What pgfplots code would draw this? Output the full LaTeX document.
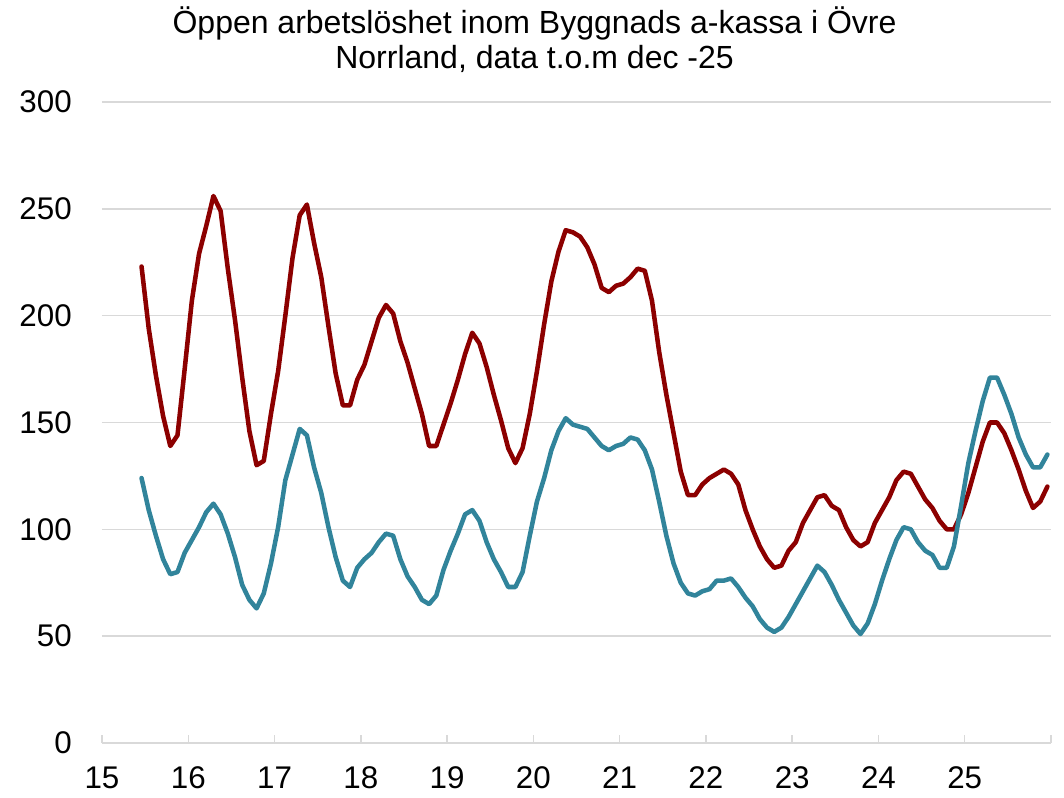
\documentclass[border=0pt]{standalone}
\usepackage{fontspec}
\setmainfont{Liberation Sans}
\usepackage{pgfplots}
\usepackage{pgfplotstable}
\pgfplotsset{compat=1.18}
\definecolor{dred}{RGB}{140,0,0}
\definecolor{tealc}{RGB}{49,132,155}
\definecolor{gridc}{RGB}{217,217,217}
\pgfplotstableread{
red teal
223 124
194 109
172 97
153 86
139 79
144 80
175 89
207 95
229 101
242 108
256 112
249 107
222 98
198 87
171 74
146 67
130 63
132 70
154 84
174 101
200 123
227 135
247 147
252 144
234 129
218 117
195 101
173 87
158 76
158 73
170 82
177 86
188 89
199 94
205 98
201 97
188 86
178 78
166 73
154 67
139 65
139 69
149 81
159 90
170 98
182 107
192 109
187 104
176 94
163 86
151 80
138 73
131 73
138 80
154 97
174 113
196 124
216 137
230 146
240 152
239 149
237 148
232 147
224 143
213 139
211 137
214 139
215 140
218 143
222 142
221 137
207 128
183 113
163 97
145 84
127 75
116 70
116 69
121 71
124 72
126 76
128 76
126 77
121 73
109 68
100 64
92 58
86 54
82 52
83 54
90 59
94 65
103 71
109 77
115 83
116 80
111 74
109 67
101 61
95 55
92 51
94 56
103 65
109 76
115 86
123 95
127 101
126 100
120 94
114 90
110 88
104 82
100 82
100 92
107 111
117 131
129 146
141 160
150 171
150 171
145 163
137 154
128 143
118 135
110 129
113 129
120 135
}\datatable
\begin{document}
\begin{tikzpicture}
\path[use as bounding box] (0,0) rectangle (798pt,598.5pt);
\node[align=center, font=\fontsize{24}{26.25}\selectfont, inner sep=0pt] at (400.9pt,568.9pt)
  {Öppen arbetslöshet inom Byggnads a-kassa i Övre\\Norrland, data t.o.m dec -25};
\begin{axis}[
  at={(76.5pt,41.25pt)}, anchor=south west,
  scale only axis, width=711.75pt, height=480.75pt,
  xmin=15, xmax=26, ymin=0, ymax=300,
  xtick={15,16,17,18,19,20,21,22,23,24,25,26},
  xticklabels={15,16,17,18,19,20,21,22,23,24,25,{}},
  ytick={0,50,100,150,200,250,300},
  axis line style={draw=none},
  ymajorgrids,
  major grid style={draw=gridc, line width=1.1pt},
  tick align=inside,
  xtick pos=left,
  major tick length=6pt,
  xtick style={draw=gridc, line width=1.1pt},
  ytick style={draw=none},
  tick label style={font=\fontsize{23.5}{28}\selectfont},
  /pgf/number format/assume math mode=true,
  xticklabel style={anchor=base, inner sep=0pt, yshift=-34.5pt},
  yticklabel style={anchor=east, inner sep=0pt, xshift=-22.5pt},
  clip=false,
]
\addplot[dred, line width=3.4pt, line join=round, line cap=round] table[x expr={15+(\coordindex+5.5)/12}, y=red] {\datatable};
\addplot[tealc, line width=3.4pt, line join=round, line cap=round] table[x expr={15+(\coordindex+5.5)/12}, y=teal] {\datatable};
\end{axis}
\end{tikzpicture}
\end{document}
